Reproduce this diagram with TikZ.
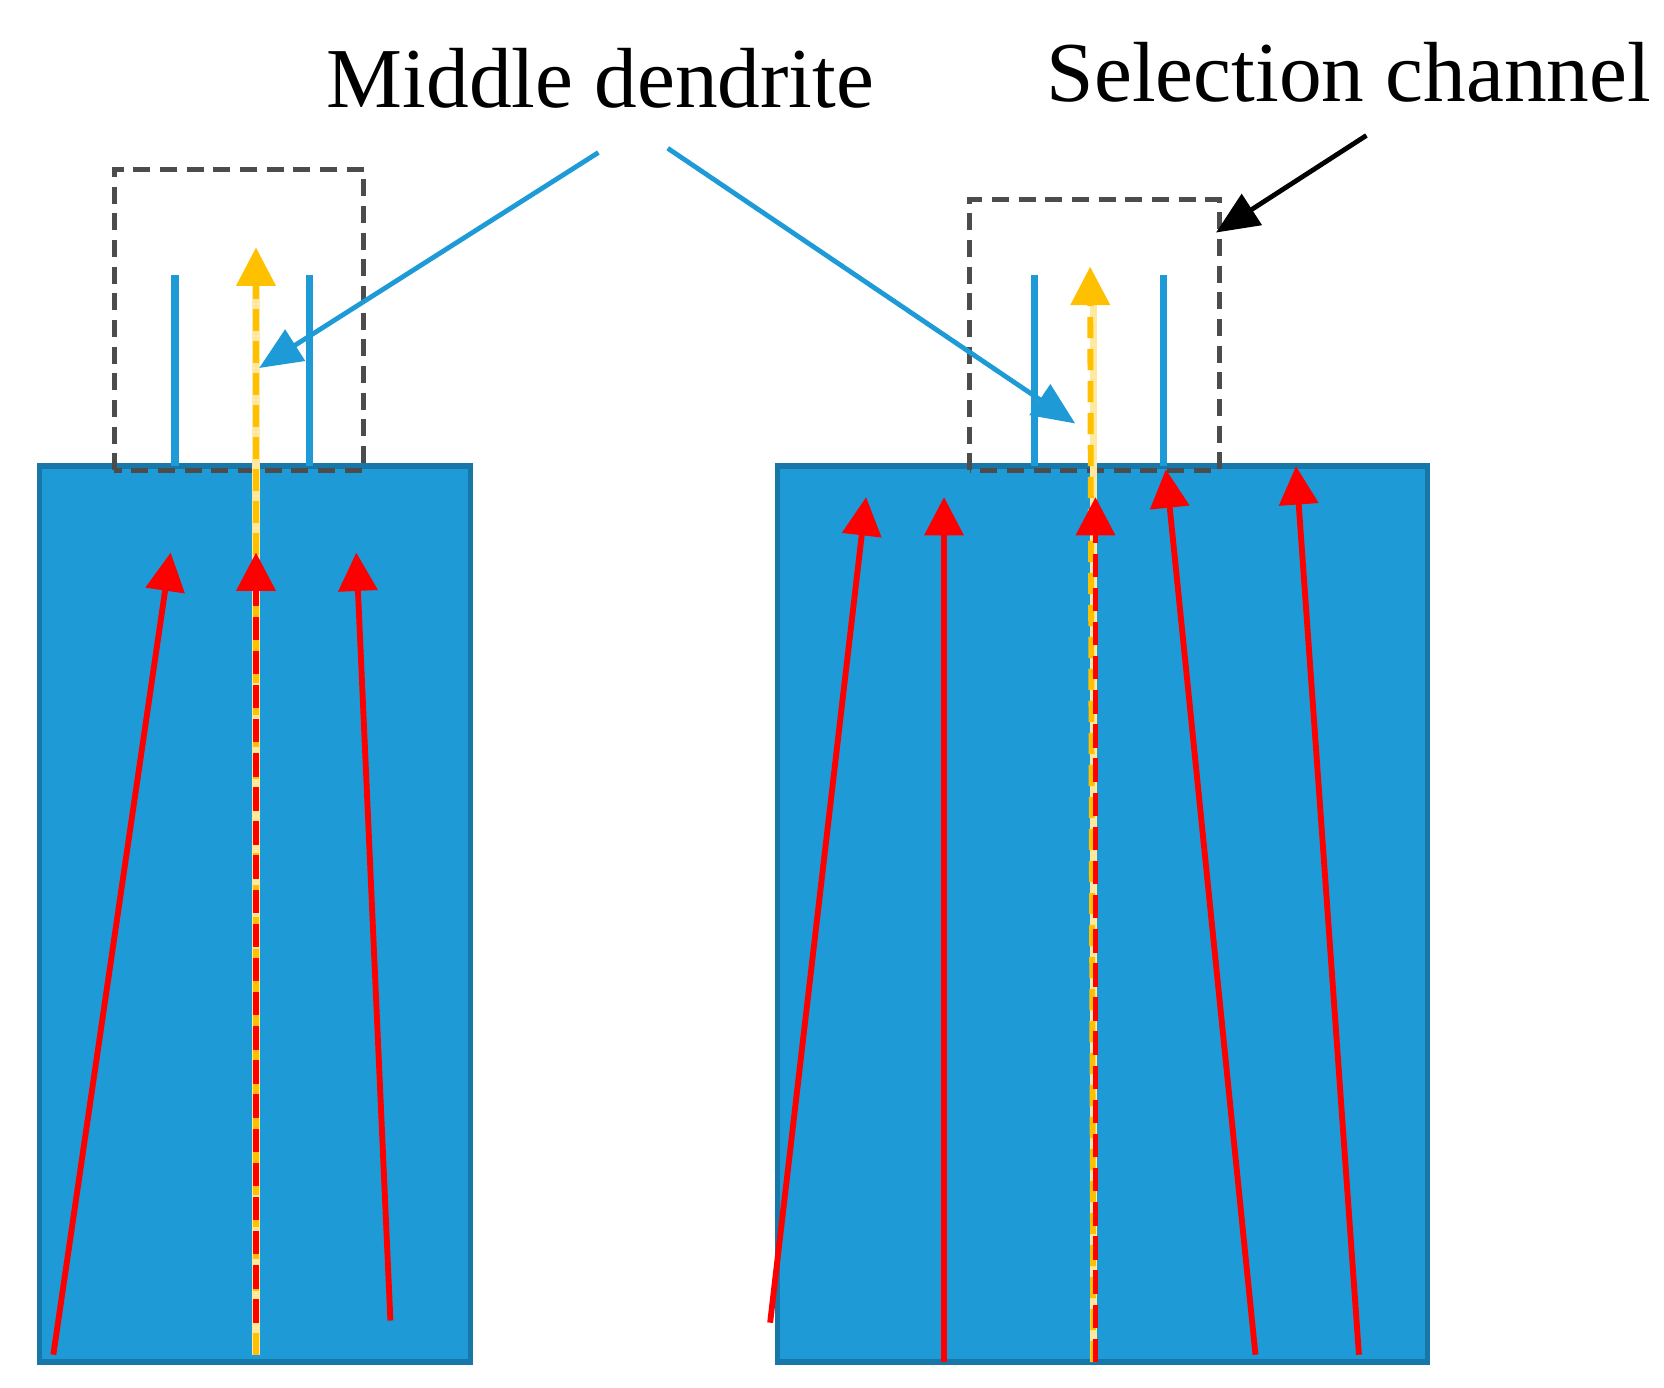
\documentclass[tikz,border=0pt]{standalone}
\usepackage{fontspec}
\setmainfont{Liberation Serif}
\usetikzlibrary{arrows.meta,positioning}
\definecolor{sblue}{HTML}{1E9BD7}
\definecolor{sedge}{HTML}{1777A8}
\definecolor{sred}{HTML}{FF0000}
\definecolor{syel}{HTML}{FFC000}
\definecolor{scream}{HTML}{FFE9A0}
\tikzset{
  block/.style={draw=sedge,line width=5pt,fill=sblue},
  selbox/.style={draw=black!70,line width=4.5pt,dash pattern=on 16pt off 9pt},
  dendrite/.style={draw=sblue,line width=7pt},
  flow/.style={draw=sred,line width=5.5pt,-{Triangle[length=36pt,width=36pt]}},
  midflow/.style={flow,dash pattern=on 22pt off 10pt},
  trunk/.style={draw=scream,line width=7pt},
  mainflow/.style={draw=syel,line width=5.5pt,dash pattern=on 20pt off 10pt,
    -{Triangle[length=36pt,width=36pt]}},
  note/.style={line width=4.5pt,-{Triangle[length=40pt,width=34pt]}},
  label/.style={font=\fontsize{80}{84}\selectfont,inner sep=0pt},
}
\begin{document}
\begin{tikzpicture}[x=1pt,y=-1pt]
  \useasboundingbox (0,0) rectangle (1560,1301);
  % blocks
  \draw[block] (37,437) rectangle (441,1277);
  \draw[block] (729,437) rectangle (1338,1277);
  % selection channels
  \draw[selbox] (107,441) -- (107,159) -- (341,159) -- (341,441) -- cycle;
  \draw[selbox] (909,441) -- (909,187) -- (1143,187) -- (1143,441) -- cycle;
  % dendrites
  \foreach \x in {164,290,970,1091}
    \draw[dendrite] (\x,258) -- (\x,437);
  % main (middle) flow
  \draw[trunk] (240,1270) -- (240,265);
  \draw[mainflow] (240,1270) -- (240,232);
  \draw[trunk] (1025,1277) -- (1025,285);
  \draw[mainflow] (1025,1277) -- (1022,250);
  % red flows
  \coordinate (l1s) at (50,1270);   \coordinate (l1e) at (160,518);
  \coordinate (l3s) at (366,1238);  \coordinate (l3e) at (334,518);
  \draw[flow] (l1s) -- (l1e);
  \draw[midflow] (240,1240) -- (240,518);
  \draw[flow] (l3s) -- (l3e);
  \draw[flow] (722,1240) -- (812,466);
  \draw[flow] (885,1277) -- (885,466);
  \draw[midflow] (1027,1277) -- (1027,466);
  \draw[flow] (1177,1270) -- (1093,440);
  \draw[flow] (1274,1270) -- (1215,437);
  % labels
  \node[label] (mid) at (563,73) {Middle dendrite};
  \node[label,anchor=east] (sel) at (1548,68) {Selection channel};
  \coordinate (midl) at (243,345);
  \coordinate (midr) at (1008,397);
  \coordinate (selt) at (1140,218);
  \draw[note,draw=sblue,fill=sblue] (561,143) -- (midl);
  \draw[note,draw=sblue,fill=sblue] (626,139) -- (midr);
  \draw[note,draw=black,fill=black] (1281,127) -- (selt);
\end{tikzpicture}
\end{document}
